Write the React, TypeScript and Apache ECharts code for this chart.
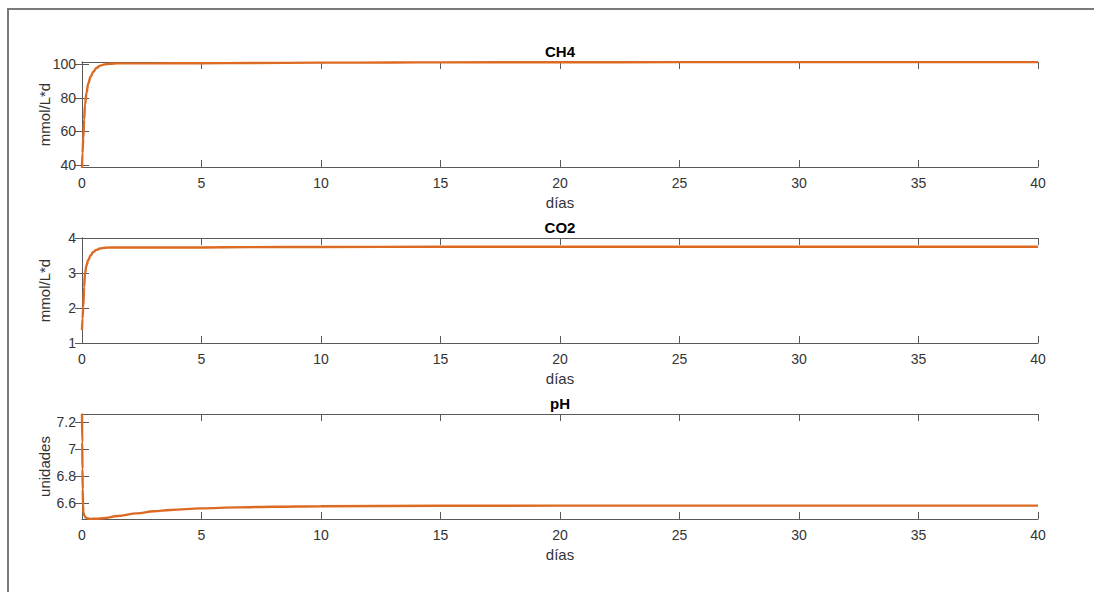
import React, { useEffect, useRef } from "react";
import * as echarts from "echarts";

const titles = ["CH4", "CO2", "pH"];
const yNames = ["mmol/L*d", "mmol/L*d", "unidades"];
const xLabel = "días";
const xTicks = [0, 5, 10, 15, 20, 25, 30, 35, 40];

const ch4Days = [0, 0.02, 0.054, 0.09, 0.125, 0.19, 0.26, 0.36, 0.47, 0.6, 0.75, 0.95, 1.17, 1.5, 2, 3, 5, 7, 10, 13, 15, 20, 25, 30, 35, 40];
const ch4Vals = [38.2, 47, 56, 67, 75.7, 83, 88.5, 92.5, 95.4, 97.7, 99.1, 99.9, 100.3, 100.5, 100.5, 100.5, 100.6, 100.7, 100.9, 101.0, 101.1, 101.15, 101.2, 101.2, 101.2, 101.2];
const ch4Ticks = [40, 60, 80, 100];

const co2Days = [0, 0.02, 0.054, 0.09, 0.125, 0.19, 0.26, 0.36, 0.47, 0.6, 0.75, 0.95, 1.17, 1.5, 2, 3, 5, 7, 10, 15, 20, 25, 30, 35, 40];
const co2Vals = [1.37, 1.7, 2.04, 2.6, 2.99, 3.22, 3.37, 3.5, 3.6, 3.66, 3.7, 3.72, 3.73, 3.73, 3.73, 3.73, 3.73, 3.74, 3.745, 3.75, 3.75, 3.75, 3.75, 3.75, 3.75];
const co2Ticks = [1, 2, 3, 4];

const phDays = [0, 0.01, 0.02, 0.03, 0.045, 0.06, 0.1, 0.15, 0.25, 0.35, 0.6, 0.9, 1.5, 2.3, 3.0, 3.7, 5.0, 6.5, 8, 10, 15, 20, 25, 30, 35, 40];
const phVals = [7.259, 7.05, 6.85, 6.7, 6.58, 6.53, 6.505, 6.492, 6.485, 6.482, 6.483, 6.487, 6.503, 6.523, 6.538, 6.548, 6.56, 6.567, 6.572, 6.576, 6.579, 6.58, 6.58, 6.58, 6.58, 6.58];
const phTicks = [6.6, 6.8, 7, 7.2];

const yMins = [38.8, 1, 6.481];
const yMaxs = [101.3, 4, 7.259];

export default function App() {
  const ref = useRef<HTMLDivElement>(null);
  useEffect(() => {
    if (!ref.current) return;
    const chart = echarts.init(ref.current, null, { renderer: "svg" });
    const font = "'Liberation Sans', Arial, Helvetica, sans-serif";
    const boxColor = "#5a5a5a";
    const textColor = "#333333";
    const tops = [62, 238, 414];
    const datasets = [
      { d: ch4Days, v: ch4Vals, t: ch4Ticks },
      { d: co2Days, v: co2Vals, t: co2Ticks },
      { d: phDays, v: phVals, t: phTicks },
    ];
    const grids = tops.map((top) => ({ left: 82, top, width: 956, height: 105, show: false }));
    const xAxes: any[] = [];
    const yAxes: any[] = [];
    tops.forEach((_, i) => {
      const xBase = {
        type: "value",
        gridIndex: i,
        min: 0,
        max: 40,
        interval: 5,
        splitLine: { show: false },
        axisLine: { show: true, lineStyle: { color: boxColor, width: 1 } },
        axisTick: { show: true, inside: true, length: 7, lineStyle: { color: boxColor } },
      };
      xAxes.push({
        ...xBase,
        position: "bottom",
        name: xLabel,
        nameLocation: "middle",
        nameGap: 28,
        nameMoveOverlap: false,
        nameTextStyle: { fontFamily: font, fontSize: 15, color: textColor },
        axisLabel: {
          show: true,
          margin: 9,
          fontFamily: font,
          fontSize: 14,
          color: textColor,
          customValues: xTicks,
        },
      });
      xAxes.push({ ...xBase, position: "top", axisLabel: { show: false } });
      const ticks = datasets[i].t;
      const yBase = {
        type: "value",
        gridIndex: i,
        min: yMins[i],
        max: yMaxs[i],
        splitLine: { show: false },
        axisLine: { show: true, lineStyle: { color: boxColor, width: 1 } },
        axisTick: { show: true, inside: true, length: 7, lineStyle: { color: boxColor }, customValues: ticks },
      };
      yAxes.push({
        ...yBase,
        position: "left",
        name: yNames[i],
        nameLocation: "middle",
        nameGap: 30,
        nameRotate: 90,
        nameMoveOverlap: false,
        nameTextStyle: { fontFamily: font, fontSize: 15, color: textColor },
        axisLabel: {
          show: true,
          margin: 6,
          fontFamily: font,
          fontSize: 14,
          color: textColor,
          customValues: ticks,
          formatter: (v: number) => String(Math.round(v * 10) / 10),
        },
      });
      yAxes.push({ ...yBase, position: "right", axisLabel: { show: false } });
    });
    const series = datasets.map((ds, i) => ({
      type: "line",
      xAxisIndex: i * 2,
      yAxisIndex: i * 2,
      data: ds.d.map((x, k) => [x, ds.v[k]]),
      showSymbol: false,
      smooth: 0.4,
      smoothMonotone: "x",
      lineStyle: { color: "#DD6A22", width: 2.4 },
      clip: false,
    }));
    chart.setOption({
      animation: false,
      backgroundColor: "#ffffff",
      graphic: [
        {
          type: "polyline",
          shape: { points: [[8, 700], [8, 9], [1200, 9]] },
          style: { fill: "none", stroke: "#7a7a7a", lineWidth: 2 },
          silent: true,
        },
        ...titles.map((t, i) => ({
          type: "text",
          x: 560,
          y: tops[i] - 11,
          style: {
            text: t,
            fontFamily: font,
            fontSize: 15,
            fontWeight: "bold",
            fill: "#000",
            align: "center",
            verticalAlign: "middle",
          },
          silent: true,
        })),
      ],
      grid: grids,
      xAxis: xAxes,
      yAxis: yAxes,
      series,
    });
    return () => chart.dispose();
  }, []);
  return (
    <div
      ref={ref}
      style={{ position: "absolute", left: 0, top: 0, width: 1094, height: 592 }}
    />
  );
}
